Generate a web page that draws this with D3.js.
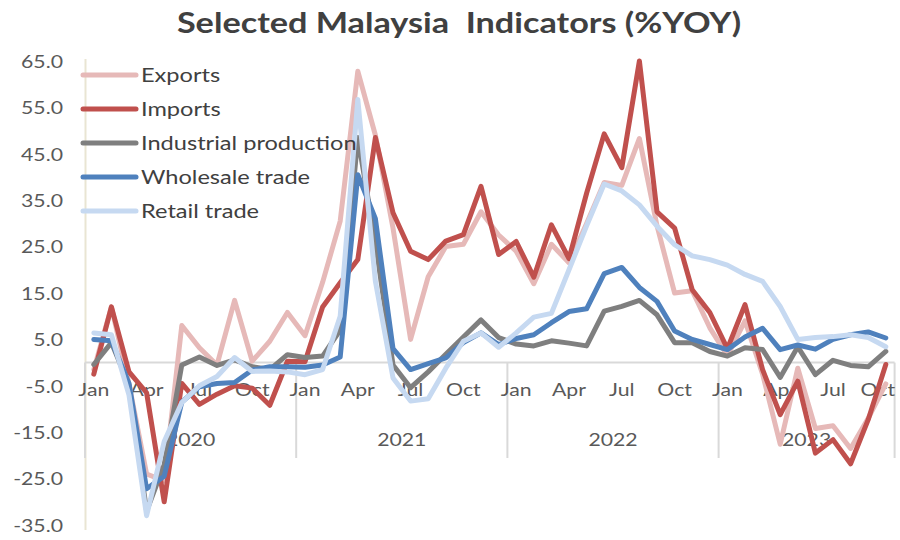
<!DOCTYPE html>
<html><head><meta charset="utf-8">
<script src="https://cdn.jsdelivr.net/npm/d3@7"></script>
<style>body{margin:0;background:#fff}svg{display:block}</style>
</head><body>
<svg id="c" width="900" height="540"></svg>
<script>
const categories = [
"2020-01","2020-02","2020-03","2020-04","2020-05","2020-06","2020-07","2020-08","2020-09","2020-10","2020-11","2020-12",
"2021-01","2021-02","2021-03","2021-04","2021-05","2021-06","2021-07","2021-08","2021-09","2021-10","2021-11","2021-12",
"2022-01","2022-02","2022-03","2022-04","2022-05","2022-06","2022-07","2022-08","2022-09","2022-10","2022-11","2022-12",
"2023-01","2023-02","2023-03","2023-04","2023-05","2023-06","2023-07","2023-08","2023-09","2023-10"];
const monthNames = ["Jan","Feb","Mar","Apr","May","Jun","Jul","Aug","Sep","Oct","Nov","Dec"];
const monthTickLabels = ["Jan","Apr","Jul","Oct"];
const yearLabels = ["2020","2021","2022","2023"];
const yTicks = [65,55,45,35,25,15,5,-5,-15,-25,-35];
const seriesNames = ["Exports","Imports","Industrial production","Wholesale trade","Retail trade"];
const seriesColors = ["#E6B9B8","#C0504D","#7F7F7F","#4F81BD","#C6D9F1"];

const exportsYoy = [
-1.5, 12.0, -4.6, -24.0, -25.5, 8.0, 3.2, -0.5, 13.4, 0.3, 4.6, 10.8,
5.8, 17.3, 30.5, 62.8, 49.0, 29.0, 5.0, 18.5, 25.0, 25.5, 32.5, 27.5,
24.0, 17.0, 25.5, 21.5, 30.0, 38.8, 38.2, 48.3, 29.5, 15.0, 15.5, 7.5,
1.5, 9.0, -2.5, -17.6, -1.2, -14.2, -13.6, -18.5, -12.0, -4.6];
const importsYoy = [
-2.5, 12.0, -2.0, -6.5, -30.0, -4.5, -9.0, -6.8, -5.0, -5.5, -9.2, 0.3,
0.2, 12.0, 17.2, 22.2, 48.5, 32.3, 24.0, 22.2, 26.2, 27.6, 38.0, 23.3,
26.1, 18.4, 29.7, 22.4, 36.5, 49.3, 42.0, 65.0, 32.5, 29.0, 15.7, 10.8,
3.0, 12.5, -1.5, -11.2, -4.0, -19.5, -16.6, -21.8, -12.3, -0.4];
const industrialYoy = [
-0.4, 4.3, -4.9, -32.0, -22.0, -0.5, 1.2, -0.6, 0.6, -0.9, -1.5, 1.7,
1.1, 1.4, 7.0, 48.5, 26.0, -0.5, -5.4, -2.0, 1.8, 5.5, 9.2, 5.4,
4.0, 3.6, 4.7, 4.2, 3.6, 11.1, 12.1, 13.4, 10.3, 4.3, 4.3, 2.4,
1.4, 3.2, 2.8, -3.2, 3.4, -2.6, 0.5, -0.6, -0.9, 2.4];
const wholesaleYoy = [
5.0, 4.7, -4.5, -27.2, -24.5, -8.5, -5.2, -4.5, -4.3, -1.6, -0.9, -0.9,
-1.0, -0.5, 1.2, 40.5, 31.0, 3.0, -1.5, -0.2, 1.0, 4.3, 6.4, 3.9,
5.2, 6.0, 8.6, 11.0, 11.6, 19.2, 20.5, 16.2, 13.2, 6.8, 5.0, 3.9,
2.8, 5.5, 7.4, 2.8, 3.8, 2.9, 5.0, 6.0, 6.6, 5.3];
const retailYoy = [
6.4, 6.0, -7.0, -33.0, -17.0, -8.6, -5.0, -3.0, 1.1, -1.9, -1.8, -2.0,
-2.6, -1.5, 10.0, 56.7, 17.5, -3.3, -8.3, -7.8, -1.2, 4.6, 6.4, 3.3,
6.4, 9.8, 10.6, 20.0, 29.5, 38.5, 37.0, 34.0, 29.4, 25.4, 23.0, 22.2,
21.0, 19.0, 17.5, 12.1, 5.0, 5.4, 5.6, 6.0, 5.4, 3.4];
const seriesValues = [exportsYoy, importsYoy, industrialYoy, wholesaleYoy, retailYoy];

const svg = d3.select("#c");
const FONT = "Lato, 'Open Sans', sans-serif";
const SX = 1.18; // horizontal text stretch seen in the reference
const x = d3.scaleBand().domain(categories).range([85, 894.6]).padding(0);
const y = d3.scaleLinear().domain([-35, 65]).range([525, 61]);
const cx = d => x(d) + x.bandwidth()/2;

function stretchedText(parent, tx, ty, str) {
  return parent.append("text").attr("transform", `translate(${tx},${ty}) scale(${SX},1)`)
    .attr("font-family", FONT).text(str);
}

// title
stretchedText(svg, 459, 33, "Selected Malaysia  Indicators (%YOY)")
  .attr("text-anchor","middle").attr("font-weight", 700).attr("font-size", 29)
  .attr("fill", "#404040").attr("xml:space","preserve");

// y axis line (beige)
svg.append("line").attr("x1",85.5).attr("x2",85.5).attr("y1",y(65)-2).attr("y2",y(-35)+5)
  .attr("stroke","#E9E5D3").attr("stroke-width",2);

// y tick labels
const yAxis = d3.axisLeft(y).tickValues(yTicks).tickSize(0).tickPadding(0).tickFormat(d => d.toFixed(1));
const gy = svg.append("g").attr("transform","translate(63,0)").call(yAxis);
gy.select(".domain").remove();
gy.selectAll("text").attr("font-family", FONT).attr("font-size", 18).attr("fill","#595959")
  .attr("x",0).attr("dy","0.35em").attr("transform",`scale(${SX},1)`);

// horizontal axis line at 0
svg.append("line").attr("x1",85).attr("x2",894.6).attr("y1",y(0)).attr("y2",y(0))
  .attr("stroke","#D9D9D9").attr("stroke-width",2);

// year separators
const yearStarts = categories.filter(c => c.endsWith("-01"));
yearStarts.concat(["end"]).forEach(c => {
  const xx = c === "end" ? x.range()[1] : x(c);
  svg.append("line").attr("x1",xx).attr("x2",xx).attr("y1",y(0)).attr("y2",458)
    .attr("stroke","#D9D9D9").attr("stroke-width",2);
});

// month tick labels
const monthTicks = categories.filter(c => monthTickLabels.includes(monthNames[+c.slice(5)-1]));
const lastTick = monthTicks[monthTicks.length-1];
const xAxis = d3.axisBottom(x).tickValues(monthTicks).tickSize(0).tickPadding(0)
  .tickFormat(c => monthNames[+c.slice(5)-1]);
const gx = svg.append("g").attr("transform",`translate(0,${y(0)})`).call(xAxis);
gx.select(".domain").remove();
gx.selectAll("text").attr("font-family", FONT).attr("font-size", 18).attr("fill","#595959")
  .attr("y",27).attr("dy","0.35em").attr("transform",`scale(${SX},1)`);
// keep the last label inside the page, as the reference does
gx.selectAll(".tick").filter(d => d === lastTick).select("text")
  .attr("text-anchor","end").attr("x", (895 - cx(lastTick)) / SX);

// year labels
yearLabels.forEach(yr => {
  const ms = categories.filter(c => c.startsWith(yr));
  const mid = (cx(ms[0]) + cx(ms[ms.length-1]))/2;
  stretchedText(svg, mid, 440, yr).attr("dy","0.35em").attr("text-anchor","middle")
    .attr("font-size", 18).attr("fill","#595959");
});

// lines
const line = d3.line().x((d,i) => cx(categories[i])).y(d => y(d));
seriesValues.forEach((vals, k) => {
  svg.append("path").datum(vals).attr("d", line).attr("fill","none")
    .attr("stroke", seriesColors[k]).attr("stroke-width", 5).attr("stroke-linejoin","round").attr("stroke-linecap","round");
});

// legend
seriesNames.forEach((name, k) => {
  const ly = 75 + k*34;
  svg.append("line").attr("x1",83).attr("x2",136).attr("y1",ly).attr("y2",ly)
    .attr("stroke", seriesColors[k]).attr("stroke-width",5).attr("stroke-linecap","round");
  stretchedText(svg, 141, ly, name).attr("dy","0.35em")
    .attr("font-size", 20).attr("fill","#404040");
});
</script>
</body></html>
